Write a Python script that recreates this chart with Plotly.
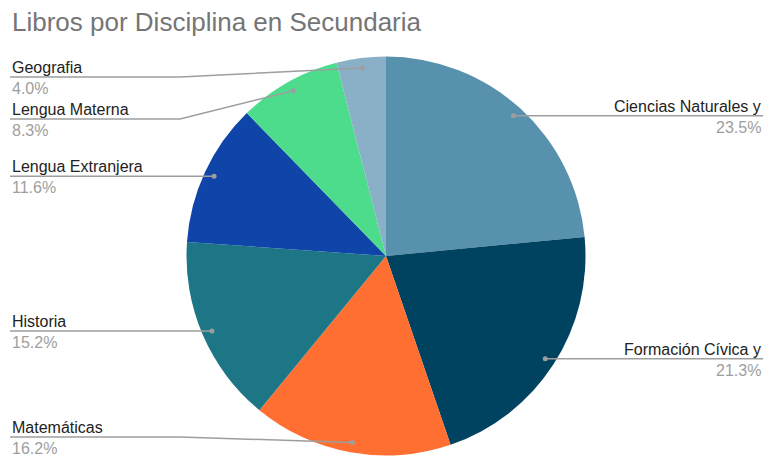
import plotly.graph_objects as go
import math

# Data
categories = ["Ciencias Naturales y", "Formación Cívica y", "Matemáticas", "Historia",
              "Lengua Extranjera", "Lengua Materna", "Geografia"]
values = [23.5, 21.3, 16.2, 15.2, 11.6, 8.3, 4.0]
colors = ["#5891ad", "#004361", "#ff6f31", "#1c7685", "#0f45a8", "#4cdc8b", "#8ab0c8"]

W, H = 764, 457
cx, cy, R = 386, 256, 199.5
FONT = "Liberation Sans, Arial, sans-serif"

fig = go.Figure(go.Pie(
    labels=categories, values=values, sort=False, direction="clockwise", rotation=0,
    marker=dict(colors=colors, line=dict(width=0)), textinfo="none", hoverinfo="label+percent",
    domain=dict(x=[(cx - R) / W, (cx + R) / W], y=[1 - (cy + R) / H, 1 - (cy - R) / H]),
    showlegend=False,
))

def px(x):
    return x / W

def py(y):
    return 1 - y / H

# label line y positions adjusted to avoid collisions (layout)
label_line_y = {"Geografia": 77, "Lengua Materna": 119, "Matemáticas": 437}

total = sum(values)
shapes, annotations = [], []
cum = 0.0
for cat, v in zip(categories, values):
    mid = (cum + v / 2) / total * 2 * math.pi
    cum += v
    dx = cx + 0.95 * R * math.sin(mid)
    dy = cy - 0.95 * R * math.cos(mid)
    left = math.sin(mid) < 0
    ly = label_line_y.get(cat, dy)
    edge = 10 if left else 763
    elbow = 180 if left else 590
    if abs(ly - dy) < 1:
        path = f"M {px(edge)} {py(ly)} L {px(dx)} {py(dy)}"
    else:
        path = f"M {px(edge)} {py(ly)} L {px(elbow)} {py(ly)} L {px(dx)} {py(dy)}"
    shapes.append(dict(type="path", path=path, xref="paper", yref="paper",
                       line=dict(color="#9e9e9e", width=1.5)))
    shapes.append(dict(type="circle", xref="paper", yref="paper",
                       x0=px(dx - 2.5), x1=px(dx + 2.5), y0=py(dy + 2.5), y1=py(dy - 2.5),
                       fillcolor="#9e9e9e", line=dict(width=0)))
    pct = f"{v / total * 100:.1f}%"
    annotations.append(dict(text=cat, x=px(edge), y=py(ly + 1), xref="paper", yref="paper",
                            xanchor="left" if left else "right", yanchor="bottom",
                            showarrow=False, font=dict(family=FONT, size=16, color="#222222")))
    annotations.append(dict(text=pct, x=px(edge), y=py(ly + 1), xref="paper", yref="paper",
                            xanchor="left" if left else "right", yanchor="top",
                            showarrow=False, font=dict(family=FONT, size=16, color="#9e9e9e")))

annotations.append(dict(text="Libros por Disciplina en Secundaria", x=px(10), y=py(22),
                        xref="paper", yref="paper", xanchor="left", yanchor="middle",
                        showarrow=False, font=dict(family=FONT, size=26, color="#757575")))

fig.update_layout(width=W, height=H, margin=dict(l=0, r=0, t=0, b=0),
                  paper_bgcolor="white", plot_bgcolor="white",
                  shapes=shapes, annotations=annotations)
fig.write_html("out.html")
